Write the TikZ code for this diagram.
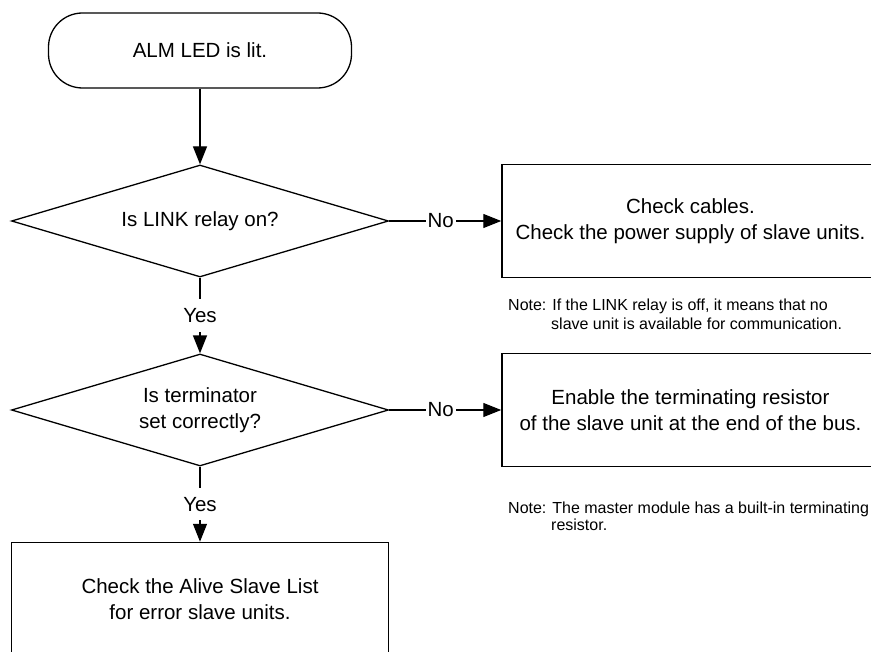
\documentclass[tikz,border=0pt]{standalone}
\usepackage{fontspec}
\setmainfont{Liberation Sans}
\usetikzlibrary{shapes.geometric,arrows.meta}
\begin{document}
\begin{tikzpicture}[x=1pt,y=-1pt,
  every node/.style={font=\fontsize{20.5}{25.5}\selectfont},
  terminal/.style={draw, line width=1.3pt, rounded corners=34pt, minimum width=303pt, minimum height=75pt, inner sep=0pt},
  decision/.style={draw, line width=1.3pt, diamond, aspect=3.37, minimum width=377pt, minimum height=112pt, inner sep=0pt, align=center},
  process/.style={draw, line width=1.5pt, minimum width=377pt, minimum height=113pt, inner sep=0pt, align=center},
  flow/.style={line width=1.3pt, -{Triangle[length=18pt,width=14pt]}},
  lbl/.style={fill=white, inner xsep=2pt, inner ysep=9pt},
  note/.style={font=\fontsize{16}{19}\selectfont, inner sep=0pt, anchor=base west}
]
\path[use as bounding box, clip] (0,0) rectangle (871,652);
\node[terminal] (start) at (200,50.5) {ALM LED is lit.};
\node[decision] (d1) at (200,221) {Is LINK relay on?};
\node[decision] (d2) at (200,410) {Is terminator\\set correctly?};
\node[process] (p1) at (690.5,221) {Check cables.\\Check the power supply of slave units.};
\node[process] (p2) at (690.5,410) {Enable the terminating resistor\\of the slave unit at the end of the bus.};
\node[process] (p3) at (200,599) {Check the Alive Slave List\\for error slave units.};
\node[note] (n1a) at (508,311) {Note: If the LINK relay is off, it means that no};
\node[note] (n1b) at (551,330) {slave unit is available for communication.};
\node[note] (n2a) at (508,513) {Note: The master module has a built-in terminating};
\node[note] (n2b) at (551,530) {resistor.};
\draw[flow] (start) -- (d1);
\draw[flow] (d1) -- node[lbl]{Yes} (d2);
\draw[flow] (d2) -- node[lbl]{Yes} (p3);
\draw[flow] (d1) -- node[lbl,pos=0.46]{No} (p1);
\draw[flow] (d2) -- node[lbl,pos=0.46]{No} (p2);
\end{tikzpicture}
\end{document}
